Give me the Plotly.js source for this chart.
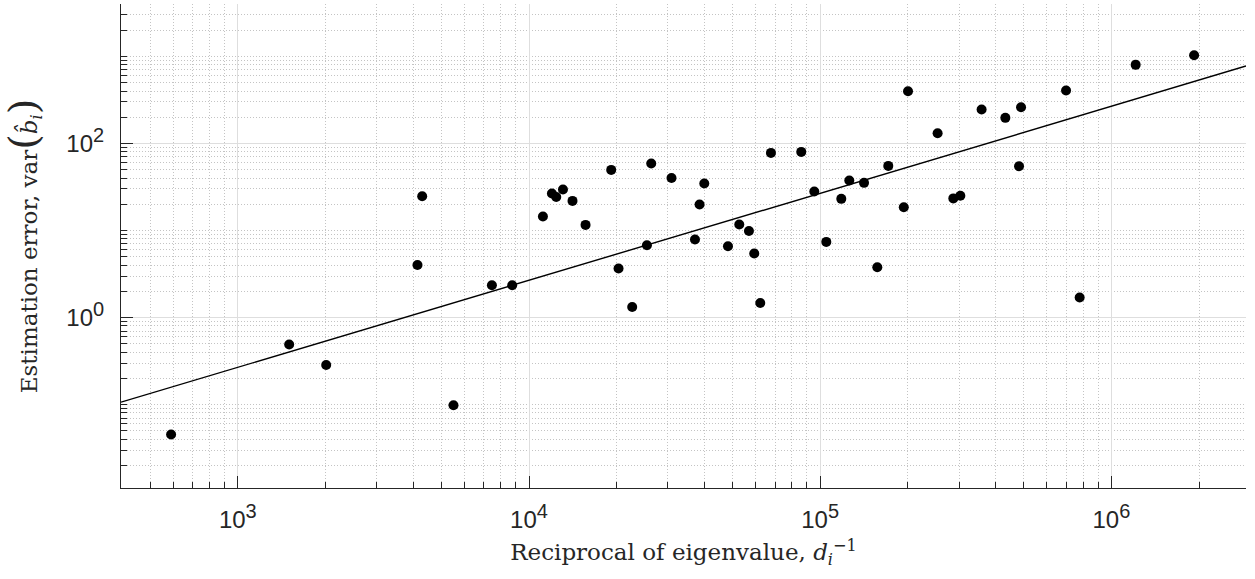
<!DOCTYPE html>
<html>
<head>
<meta charset="utf-8">
<script src="https://cdn.plot.ly/plotly-3.0.1.min.js"></script>
<style>html,body{margin:0;padding:0;background:#fff;}#chart{width:1255px;height:579px;}</style>
</head>
<body>
<div id="chart"></div>
<script>
// Reciprocal of eigenvalue (x) and estimation error (y)
const recipEig = [590, 1501, 2011, 4140, 4297, 5504, 7457, 8756, 11164, 11986,
  12403, 13079, 14107, 15637, 19157, 20302, 22617, 25410, 26290, 30863,
  37153, 38530, 39989, 48230, 52740, 56940, 59370, 62260, 67760, 86110,
  95440, 104950, 118180, 125900, 141450, 157100, 171340, 193700, 200300, 253100,
  286600, 302900, 358400, 432400, 481900, 489600, 698900, 778300, 1212000, 1924000];
const estError = [0.0452, 0.489, 0.285, 4.02, 24.8, 0.0982, 2.35, 2.35, 14.5, 26.6,
  24.3, 29.6, 21.9, 11.6, 49.7, 3.66, 1.32, 6.78, 58.9, 40.2,
  7.88, 19.9, 34.7, 6.60, 11.7, 9.89, 5.44, 1.47, 78.0, 80.1,
  28.1, 7.40, 23.1, 37.6, 35.3, 3.79, 55.3, 18.5, 399, 131,
  23.4, 25.1, 246, 197, 54.8, 261, 407, 1.70, 801, 1035];
// Fitted line end points
const fitX = [397, 2900000];
const fitY = [0.1064, 777];

const xTickVals = [1e3, 1e4, 1e5, 1e6];
const xExponents = ['3', '4', '5', '6'];
const yTickVals = [1, 100];
const yExponents = ['0', '2'];

const supLabel = e => '10<sup><span style="font-size:20px">' + e + '</span></sup>';
const xTickText = xExponents.map(supLabel);
const yTickText = yExponents.map(supLabel);

function minorVals(kFrom, kTo, includeDecades) {
  const out = [];
  for (let k = kFrom; k <= kTo; k++) {
    for (let m = 1; m <= 9; m++) {
      if (m === 1 && !includeDecades.includes(k)) continue;
      out.push(+(m * Math.pow(10, k)).toPrecision(6));
    }
  }
  return out;
}
const xMinor = minorVals(2, 6, []);
const yMinor = minorVals(-2, 3, [-1, 1, 3]);

const axisCol = '#262626';
const tickFont = {family: 'Liberation Sans, Arial, sans-serif', size: 24, color: axisCol};
const titleFont = {family: 'DejaVu Serif, serif', size: 23, color: axisCol};

const traces = [
  {x: fitX, y: fitY, type: 'scatter', mode: 'lines', line: {color: '#000', width: 1.4}, hoverinfo: 'skip', showlegend: false},
  {x: recipEig, y: estError, type: 'scatter', mode: 'markers', marker: {color: '#000', size: 10}, showlegend: false}
];

const layout = {
  width: 1255, height: 579,
  margin: {l: 121, r: 9, t: 4, b: 91},
  paper_bgcolor: '#fff', plot_bgcolor: '#fff',
  showlegend: false,
  xaxis: {
    type: 'log', range: [Math.log10(397), Math.log10(2.9e6)],
    tickmode: 'array', tickvals: xTickVals, ticktext: xTickText,
    ticks: 'inside', ticklen: 12, tickcolor: axisCol, tickwidth: 1,
    showline: true, linecolor: axisCol, linewidth: 1, mirror: false,
    showgrid: true, gridcolor: '#dedede', gridwidth: 1,
    zeroline: false, tickfont: tickFont, ticklabelstandoff: 10,
    minor: {tickmode: 'array', tickvals: xMinor, ticks: 'inside', ticklen: 6, tickcolor: axisCol,
      showgrid: true, gridcolor: '#c4c4c4', griddash: '1px,2px', gridwidth: 1},
    title: {text: 'Reciprocal of eigenvalue, <i>d</i><sub><i>i</i></sub><sup>−1</sup>', font: titleFont, standoff: 12}
  },
  yaxis: {
    type: 'log', range: [-1.959, 3.603],
    tickmode: 'array', tickvals: yTickVals, ticktext: yTickText,
    ticks: 'inside', ticklen: 12, tickcolor: axisCol, tickwidth: 1,
    showline: true, linecolor: axisCol, linewidth: 1, mirror: false,
    showgrid: true, gridcolor: '#dedede', gridwidth: 1,
    zeroline: false, tickfont: tickFont, ticklabelstandoff: 11,
    minor: {tickmode: 'array', tickvals: yMinor, ticks: 'inside', ticklen: 6, tickcolor: axisCol,
      showgrid: true, gridcolor: '#c4c4c4', griddash: '1px,2px', gridwidth: 1},
    title: {text: 'Estimation error, var<span style="font-size:40px">(</span><i>b̂</i><sub><i>i</i></sub><span style="font-size:40px">)</span>', font: titleFont, standoff: 22}
  }
};

Plotly.newPlot('chart', traces, layout, {displayModeBar: false, staticPlot: true});
</script>
</body>
</html>
